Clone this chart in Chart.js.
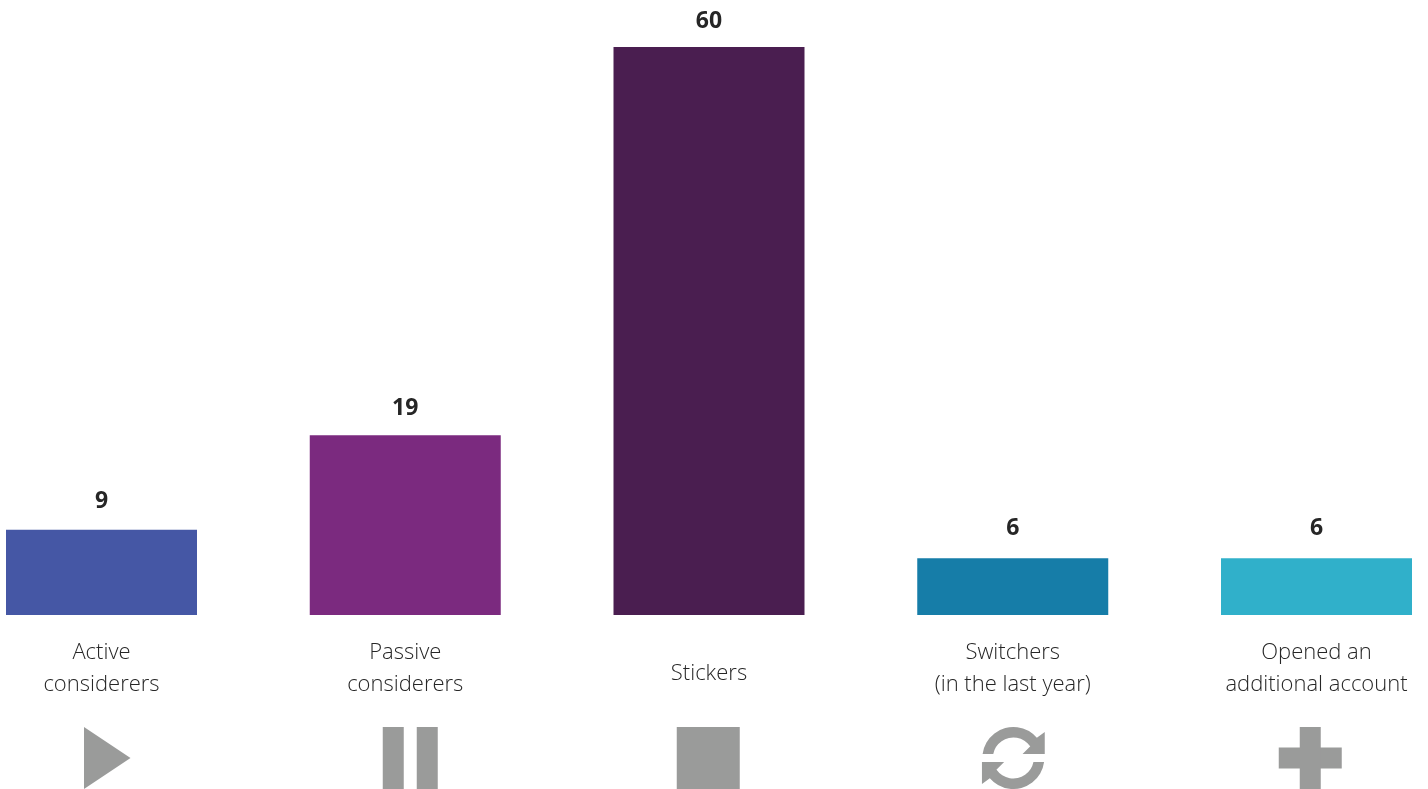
<!DOCTYPE html>
<html>
<head>
<meta charset="utf-8">
<style>
	html, body { margin: 0; padding: 0; background: #fff; overflow: hidden; }
	canvas { display: block; }
</style>
<script src="https://cdn.jsdelivr.net/npm/chart.js@4"></script>
</head>
<body>
<canvas id="chart" width="1428" height="789"></canvas>
<script>
const categories = [
	['Active', 'considerers'],
	['Passive', 'considerers'],
	['Stickers'],
	['Switchers', '(in the last year)'],
	['Opened an', 'additional account']
];
const shares = [9, 19, 60, 6, 6];
const barColors = ['#4557a5', '#7b2a7f', '#4a1e50', '#167da8', '#30b0ca'];
const icons = ['play', 'pause', 'stop', 'cycle', 'plus'];

const FONT = '"Open Sans", "Noto Sans", sans-serif';
const INK = '#262626';
const ICON_GREY = '#9a9b9a';
// distance from bar top to the middle of its value label
const VALUE_GAPS = [28, 26.5, 26, 30, 30];

// upper half of the cycle icon, the lower half is the same shape turned round
function arrowArc(ctx) {
	ctx.beginPath();
	ctx.arc(0, 0, 31, Math.PI + 0.13, -0.71);
	ctx.lineTo(31.4, -26);
	ctx.lineTo(31.4, -4);
	ctx.lineTo(9.2, -4);
	ctx.lineTo(17.2, -12);
	ctx.arc(0, 0, 20.5, -0.61, Math.PI + 0.2, true);
	ctx.closePath();
	ctx.fill();
}

// each icon is drawn around its category centre, y from 727 to 789
const iconPainters = {
	play(ctx) {
		ctx.beginPath();
		ctx.moveTo(-17.5, -31);
		ctx.lineTo(29, 0);
		ctx.lineTo(-17.5, 31);
		ctx.closePath();
		ctx.fill();
	},
	pause(ctx) {
		ctx.fillRect(-22.5, -31, 21, 62);
		ctx.fillRect(11.5, -31, 21, 62);
	},
	stop(ctx) {
		ctx.fillRect(-32.25, -31, 63, 62);
	},
	cycle(ctx) {
		ctx.translate(0.6, 0);
		arrowArc(ctx);
		ctx.rotate(Math.PI);
		arrowArc(ctx);
	},
	plus(ctx) {
		ctx.translate(-6.25, 0);
		ctx.fillRect(-31.5, -10.5, 63, 21);
		ctx.fillRect(-10.5, -31, 21, 62);
	}
};

const barExtras = {
	id: 'barExtras',
	afterDatasetsDraw(chart) {
		const { ctx, scales: { x, y } } = chart;
		ctx.save();
		ctx.textAlign = 'center';
		ctx.textBaseline = 'middle';
		shares.forEach((value, i) => {
			const cx = x.getPixelForValue(i);

			ctx.fillStyle = INK;
			ctx.font = 'bold 23px ' + FONT;
			ctx.fillText(String(value), cx, y.getPixelForValue(value) - VALUE_GAPS[i]);

			ctx.font = '300 22px ' + FONT;
			const lines = categories[i];
			if (lines.length === 1) {
				ctx.fillText(lines[0], cx, 674);
			} else {
				ctx.fillText(lines[0], cx, 653);
				ctx.fillText(lines[1], cx, 685);
			}

			ctx.save();
			ctx.translate(cx, 758);
			ctx.fillStyle = ICON_GREY;
			iconPainters[icons[i]](ctx);
			ctx.restore();
		});
		ctx.restore();
	}
};

new Chart(document.getElementById('chart'), {
	type: 'bar',
	data: {
		labels: categories.map(c => c.join(' ')),
		datasets: [{
			data: shares,
			backgroundColor: barColors,
			barThickness: 191,
			inflateAmount: 0,
			clip: false
		}]
	},
	options: {
		responsive: false,
		animation: false,
		layout: { padding: { left: 101.5, right: 111.5, top: 47, bottom: 174 } },
		plugins: { legend: { display: false }, tooltip: { enabled: false } },
		scales: {
			x: { display: false, offset: false },
			y: { display: false, min: 0, max: 60 }
		}
	},
	plugins: [barExtras]
});
</script>
</body>
</html>
